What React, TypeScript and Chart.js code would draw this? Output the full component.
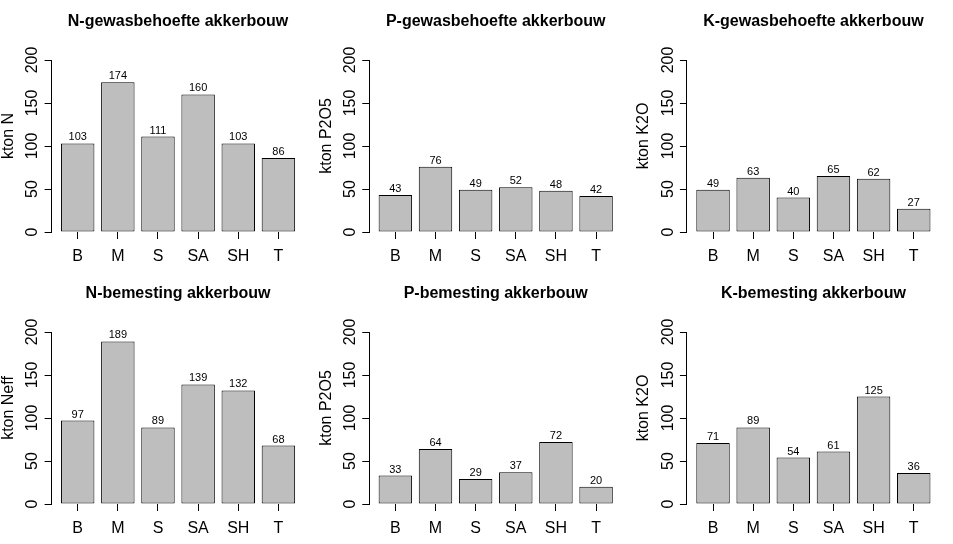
import React, { useEffect, useRef } from "react";
import { Chart, registerables } from "chart.js";

Chart.register(...registerables);

const categories = ["B", "M", "S", "SA", "SH", "T"];

const nNeed = [103, 174, 111, 160, 103, 86];
const pNeed = [43, 76, 49, 52, 48, 42];
const kNeed = [49, 63, 40, 65, 62, 27];
const nFert = [97, 189, 89, 139, 132, 68];
const pFert = [33, 64, 29, 37, 72, 20];
const kFert = [71, 89, 54, 61, 125, 36];

const titles = [
  "N-gewasbehoefte akkerbouw",
  "P-gewasbehoefte akkerbouw",
  "K-gewasbehoefte akkerbouw",
  "N-bemesting akkerbouw",
  "P-bemesting akkerbouw",
  "K-bemesting akkerbouw",
];
const yLabels = ["kton N", "kton P2O5", "kton K2O", "kton Neff", "kton P2O5", "kton K2O"];
const seriesList = [nNeed, pNeed, kNeed, nFert, pFert, kFert];

const yTickStep = 50;
const yMax = 200;

// R barplot geometry: width 1, space 0.2
const barPos = (i: number) => 0.7 + 1.2 * i;
const X_MIN = -0.08;
const X_MAX = 7.48;

const FONT = '"Liberation Sans", Arial, Helvetica, sans-serif';
const PANEL_W = 953 / 3;
const PANEL_H = 272;
const CANVAS_W = 318;
const LEFT_OFF = 51.6;
const REGION_W = 252.9;
const TOP_OFF = 60;
const BOTTOM_H = 40;

function Panel({ idx }: { idx: number }) {
  const ref = useRef<HTMLCanvasElement | null>(null);
  const col = idx % 3;
  const row = Math.floor(idx / 3);
  const left = Math.round(col * PANEL_W);
  const leftOff = LEFT_OFF + (col * PANEL_W - left);
  const values = seriesList[idx];
  const title = titles[idx];
  const ylab = yLabels[idx];

  useEffect(() => {
    if (!ref.current) return;
    const textPlugin = {
      id: "rtext",
      afterDraw(chart: any) {
        const { ctx, chartArea, scales } = chart;
        const xs = scales.x;
        const ys = scales.y;
        ctx.save();
        ctx.fillStyle = "#000";
        // title
        ctx.font = `bold 16px ${FONT}`;
        ctx.textAlign = "center";
        ctx.textBaseline = "alphabetic";
        ctx.fillText(title, (chartArea.left + chartArea.right) / 2, 26);
        // y tick labels (rotated like R)
        ctx.font = `16px ${FONT}`;
        for (const t of ys.ticks) {
          const py = ys.getPixelForValue(t.value);
          ctx.save();
          ctx.translate(chartArea.left - 14.3, py);
          ctx.rotate(-Math.PI / 2);
          ctx.fillText(String(t.value), 0, 0);
          ctx.restore();
        }
        // x category labels
        categories.forEach((c, i) => {
          ctx.fillText(c, xs.getPixelForValue(barPos(i)), chartArea.bottom + 29);
        });
        // y axis title
        ctx.save();
        ctx.translate(13, chartArea.top + 76);
        ctx.rotate(-Math.PI / 2);
        ctx.fillText(ylab, 0, 0);
        ctx.restore();
        // value labels
        ctx.font = `11px ${FONT}`;
        const meta = chart.getDatasetMeta(0);
        meta.data.forEach((bar: any, i: number) => {
          ctx.fillText(String(values[i]), bar.x, bar.y - 3);
        });
        ctx.restore();
      },
    };

    const chart = new Chart(ref.current, {
      type: "bar",
      data: {
        datasets: [
          {
            data: values.map((v, i) => ({ x: barPos(i), y: v })),
            backgroundColor: "#BEBEBE",
            borderColor: "#000000",
            borderWidth: 1,
            borderSkipped: false,
            categoryPercentage: 1,
            barPercentage: 1 / 1.2,
          } as any,
        ],
      },
      options: {
        animation: false,
        responsive: false,
        devicePixelRatio: 1,
        layout: {
          padding: {
            left: 0,
            right: CANVAS_W - leftOff - REGION_W,
            top: TOP_OFF,
            bottom: 0,
          },
        },
        plugins: {
          legend: { display: false },
          tooltip: { enabled: false },
          title: { display: false },
        },
        scales: {
          x: {
            type: "linear",
            position: "bottom",
            min: X_MIN,
            max: X_MAX,
            offset: false,
            afterBuildTicks: (s: any) => {
              s.ticks = categories.map((_, i) => ({ value: barPos(i) }));
            },
            afterFit: (s: any) => {
              s.height = BOTTOM_H;
            },
            ticks: { display: false },
            grid: {
              display: true,
              offset: false,
              drawOnChartArea: false,
              drawTicks: true,
              tickLength: 7,
              color: "#000",
              lineWidth: 1,
            },
            border: { display: false },
          },
          y: {
            type: "linear",
            min: 0,
            max: yMax,
            ticks: { display: false, stepSize: yTickStep },
            afterFit: (s: any) => {
              s.width = leftOff;
            },
            grid: {
              display: true,
              drawOnChartArea: false,
              drawTicks: true,
              tickLength: 7,
              color: "#000",
              lineWidth: 1,
            },
            border: { display: true, color: "#000", width: 1 },
          },
        },
      } as any,
      plugins: [textPlugin],
    });
    return () => chart.destroy();
  }, [idx]);

  return (
    <canvas
      ref={ref}
      width={CANVAS_W}
      height={PANEL_H}
      style={{
        position: "absolute",
        left,
        top: row * PANEL_H,
        width: CANVAS_W,
        height: PANEL_H,
      }}
    />
  );
}

export default function App() {
  return (
    <div
      style={{
        position: "absolute",
        left: 0,
        top: 0,
        width: 953,
        height: 544,
        background: "#fff",
        overflow: "hidden",
      }}
    >
      {seriesList.map((_, i) => (
        <Panel key={i} idx={i} />
      ))}
    </div>
  );
}
